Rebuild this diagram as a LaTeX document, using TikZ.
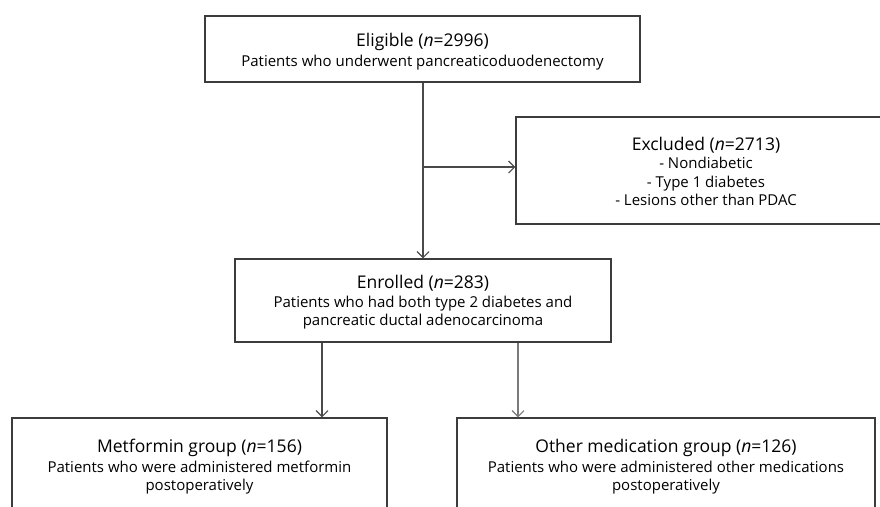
\documentclass[tikz,border=0pt]{standalone}
\usepackage{fontspec}
\setmainfont{Open Sans}
\usetikzlibrary{arrows.meta}
\definecolor{boxgray}{HTML}{3C3C3C}
\definecolor{linegray}{HTML}{4A4A4A}
\definecolor{lightline}{HTML}{7A7A7A}
\newcommand{\subfnt}{\fontsize{15}{18.5}\selectfont}
\newcommand{\titlefnt}{\fontsize{17.5}{20}\selectfont}
\tikzset{
  box/.style={draw=boxgray, line width=1.4pt, rectangle, inner sep=0pt,
    align=center, font=\subfnt, text=black},
  conn/.style={draw=linegray, line width=1.1pt,
    -{Straight Barb[length=6pt,width=12pt,line width=1.1pt]}},
}
\begin{document}
\begin{tikzpicture}[x=1pt,y=-1pt]
\useasboundingbox (0,0) rectangle (880,506);
\clip (0,0) rectangle (880,506);
\fill[white] (0,0) rectangle (880,506);

\node[box, minimum width=435pt, minimum height=66pt] (elig) at (422.5,49)
  {\rule{0pt}{19pt}{\titlefnt Eligible (\textit{n}=2996)}\\[1pt]Patients who underwent pancreaticoduodenectomy};

\node[box, minimum width=380pt, minimum height=107pt] (excl) at (706,170.5)
  {\rule{0pt}{15pt}{\titlefnt Excluded (\textit{n}=2713)}\\- Nondiabetic\\- Type 1 diabetes\\- Lesions other than PDAC};

\node[box, minimum width=376pt, minimum height=83pt] (enr) at (423,300.5)
  {\rule{0pt}{17pt}{\titlefnt Enrolled (\textit{n}=283)}\\Patients who had both type 2 diabetes and\\pancreatic ductal adenocarcinoma};

\node[box, minimum width=375pt, minimum height=94pt] (met) at (199.5,465)
  {\rule{0pt}{17pt}{\titlefnt Metformin group (\textit{n}=156)}\\[1pt]Patients who were administered metformin\\postoperatively};

\node[box, minimum width=418pt, minimum height=94pt] (oth) at (666,465)
  {\rule{0pt}{17pt}{\titlefnt Other medication group (\textit{n}=126)}\\[1pt]Patients who were administered other medications\\postoperatively};

\coordinate (br) at (423,167);
\coordinate (a1) at (322,0);
\coordinate (a2) at (518,0);

\draw[conn] (elig.south -| br) -- (enr.north -| br);
\draw[conn] (br) -- (br -| excl.west);
\draw[conn] (enr.south -| a1) -- (met.north -| a1);
\draw[conn, draw=lightline] (enr.south -| a2) -- (oth.north -| a2);
\end{tikzpicture}
\end{document}
